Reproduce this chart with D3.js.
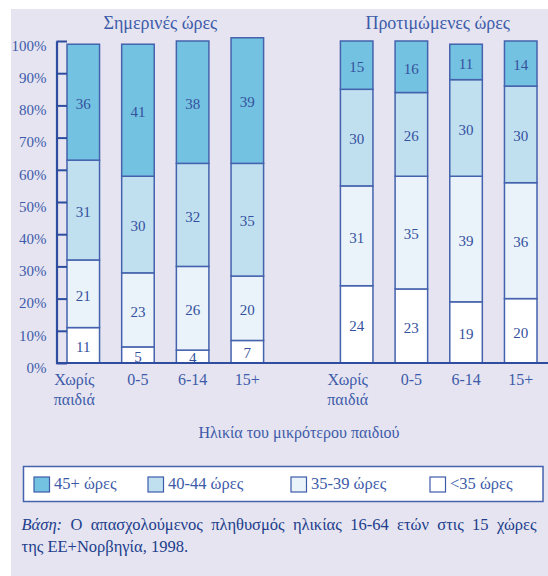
<!DOCTYPE html>
<html>
<head>
<meta charset="utf-8">
<script src="https://cdn.jsdelivr.net/npm/d3@7"></script>
<style>
  html, body { margin: 0; padding: 0; background: #fff; }
  svg { display: block; }
  svg text { font-family: "Liberation Serif", "Times New Roman", serif; }
</style>
</head>
<body>
<div id="viz"></div>
<script>
'use strict';

// categories: age of the youngest child
const categories = ['Χωρίς παιδιά', '0-5', '6-14', '15+'];
const groupTitles = ['Σημερινές ώρες', 'Προτιμώμενες ώρες'];

// hour bands, bottom to top of each bar
const bands = ['<35 ώρες', '35-39 ώρες', '40-44 ώρες', '45+ ώρες'];
const bandColors = ['#ffffff', '#eaf3fa', '#c0e0f0', '#74c2e1'];

// current hours (%)
const currentUnder35 = [11, 5, 4, 7];
const current35to39 = [21, 23, 26, 20];
const current40to44 = [31, 30, 32, 35];
const current45plus = [36, 41, 38, 39];

// preferred hours (%)
const preferredUnder35 = [24, 23, 19, 20];
const preferred35to39 = [31, 35, 39, 36];
const preferred40to44 = [30, 26, 30, 30];
const preferred45plus = [15, 16, 11, 14];

const yTicks = [0, 10, 20, 30, 40, 50, 60, 70, 80, 90, 100];
const xTitle = 'Ηλικία του μικρότερου παιδιού';
const noteLead = 'Βάση:';
const noteLine1 = 'Ο απασχολούμενος πληθυσμός ηλικίας 16-64 ετών στις 15 χώρες';
const noteLine2 = 'της ΕΕ+Νορβηγία, 1998.';

const W = 548, H = 576;
const serif = '"Liberation Serif", "Times New Roman", serif';
const axisColor = '#2e4d9e';
const textColor = '#3d5ba9';
const noteColor = '#213d8c';
const barStroke = '#4462ad';

const series = [
  [currentUnder35, current35to39, current40to44, current45plus],
  [preferredUnder35, preferred35to39, preferred40to44, preferred45plus]
];

// flat list of bar slots, with a blank slot between the two groups
const slots = [];
series.forEach((g, gi) => {
  categories.forEach((c, ci) => slots.push({key: gi + ':' + ci, group: gi, cat: ci}));
  if (gi === 0) slots.push({key: 'gap', group: -1, cat: -1});
});

const svg = d3.select('#viz')
  .append('svg')
    .attr('width', W)
    .attr('height', H)
    .style('font-family', serif);

// panel background
svg.append('rect')
  .attr('x', 11).attr('y', 9)
  .attr('width', W - 11).attr('height', H - 9)
  .attr('fill', '#e5e4f0');

const x = d3.scaleBand()
  .domain(slots.map(s => s.key))
  .range([67, 537])
  .paddingInner(0.405)
  .paddingOuter(0);

const y = d3.scaleLinear()
  .domain([0, 100])
  .range([363, 41]);

// stacked bars
const segs = [];
slots.filter(s => s.group >= 0).forEach(s => {
  let acc = 0;
  series[s.group].forEach((arr, bi) => {
    const v = arr[s.cat];
    segs.push({key: s.key, band: bi, y0: acc, y1: acc + v, value: v});
    acc += v;
  });
});

svg.append('g')
  .selectAll('rect')
  .data(segs)
  .join('rect')
    .attr('x', d => x(d.key))
    .attr('y', d => y(d.y1))
    .attr('width', x.bandwidth())
    .attr('height', d => y(d.y0) - y(d.y1))
    .attr('fill', d => bandColors[d.band])
    .attr('stroke', barStroke)
    .attr('stroke-width', 1.5);

svg.append('g')
  .selectAll('text')
  .data(segs)
  .join('text')
    .attr('x', d => x(d.key) + x.bandwidth() / 2)
    .attr('y', d => (y(d.y0) + y(d.y1)) / 2)
    .attr('dy', '0.45em')
    .attr('text-anchor', 'middle')
    .attr('font-size', 15)
    .attr('fill', '#34519e')
    .style('font-family', serif)
    .text(d => d.value);

// baseline
svg.append('line')
  .attr('x1', 56).attr('x2', W)
  .attr('y1', y(0)).attr('y2', y(0))
  .attr('stroke', axisColor)
  .attr('stroke-width', 2);

// y axis: line with ticks pointing right, labels on the left
const yAxis = svg.append('g')
  .attr('transform', 'translate(56.5,0)')
  .call(d3.axisLeft(y)
    .tickValues(yTicks)
    .tickSizeInner(-10.5)
    .tickSizeOuter(0)
    .tickPadding(10)
    .tickFormat(d => d + '%'));

yAxis.attr('font-family', null);
yAxis.select('.domain')
  .attr('stroke', axisColor)
  .attr('stroke-width', 2.2);
yAxis.selectAll('.tick line')
  .attr('stroke', axisColor)
  .attr('stroke-width', 2);
yAxis.selectAll('.tick text')
  .style('font-family', serif)
  .attr('font-size', 15)
  .attr('fill', textColor)
  .attr('dy', '0.62em');

// x axis labels
const xAxis = svg.append('g')
  .attr('transform', `translate(0,${y(0)})`)
  .call(d3.axisBottom(x)
    .tickSize(0)
    .tickPadding(0)
    .tickFormat(k => {
      const s = slots.find(s => s.key === k);
      return s.cat < 0 ? '' : categories[s.cat];
    }));

xAxis.attr('font-family', null);
xAxis.select('.domain').remove();
xAxis.selectAll('.tick text')
  .style('font-family', serif)
  .attr('font-size', 16)
  .attr('fill', textColor)
  .each(function(k) {
    const t = d3.select(this);
    const words = t.text().split(' ');
    t.text(null).attr('y', 0).attr('dy', null);
    const shift = words.length > 1 ? -9 : 0;
    words.forEach((w, i) => {
      t.append('tspan')
        .attr('x', shift)
        .attr('y', 22 + i * 20)
        .text(w);
    });
  });

// group titles
const titleShift = [-5, -1];
groupTitles.forEach((title, gi) => {
  const keys = slots.filter(s => s.group === gi).map(s => s.key);
  const cx = (x(keys[0]) + x(keys[keys.length - 1]) + x.bandwidth()) / 2;
  svg.append('text')
    .attr('x', cx + titleShift[gi])
    .attr('y', 29)
    .attr('text-anchor', 'middle')
    .attr('font-size', 18)
    .attr('fill', textColor)
    .style('font-family', serif)
    .text(title);
});

// x axis title
svg.append('text')
  .attr('x', 299)
  .attr('y', 438)
  .attr('text-anchor', 'middle')
  .attr('font-size', 16)
  .attr('fill', textColor)
  .style('font-family', serif)
  .text(xTitle);

// legend
const legend = svg.append('g');
legend.append('rect')
  .attr('x', 23.5).attr('y', 466.5)
  .attr('width', 519.5).attr('height', 35)
  .attr('fill', '#fff')
  .attr('stroke', '#4462ad')
  .attr('stroke-width', 1.5);

const legendOrder = [3, 2, 1, 0];
const legendX = [34, 148, 291, 430];
legendOrder.forEach((bi, i) => {
  const g = legend.append('g').attr('transform', `translate(${legendX[i]},477)`);
  g.append('rect')
    .attr('width', 15.5).attr('height', 15)
    .attr('fill', bandColors[bi])
    .attr('stroke', '#3d5ba9')
    .attr('stroke-width', 1.2);
  g.append('text')
    .attr('x', 20)
    .attr('y', 12)
    .attr('font-size', 16.5)
    .attr('fill', textColor)
    .style('font-family', serif)
    .text(bands[bi]);
});

// source note, first line justified
const noteX0 = 21.5, noteX1 = 536.5;
const words = [noteLead].concat(noteLine1.split(' '));
const line1 = svg.append('text')
  .attr('y', 530)
  .attr('font-size', 16.5)
  .attr('fill', noteColor)
  .style('font-family', serif);
const spans = words.map((w, i) => line1.append('tspan')
  .style('font-style', i === 0 ? 'italic' : 'normal')
  .text(w));
const widths = spans.map(s => s.node().getComputedTextLength());
const gap = (noteX1 - noteX0 - d3.sum(widths)) / (words.length - 1);
let cursor = noteX0;
spans.forEach((s, i) => {
  s.attr('x', cursor);
  cursor += widths[i] + gap;
});

svg.append('text')
  .attr('x', noteX0)
  .attr('y', 552)
  .attr('font-size', 16.5)
  .attr('fill', noteColor)
  .style('font-family', serif)
  .text(noteLine2);
</script>
</body>
</html>
